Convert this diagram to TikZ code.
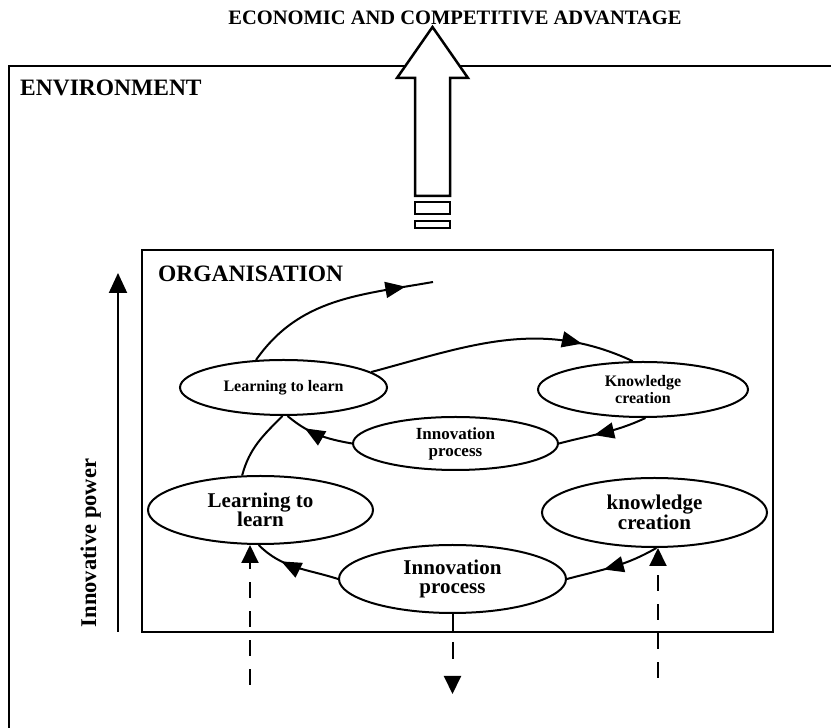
\documentclass[tikz,border=0pt]{standalone}
\usepackage{fontspec}
\setmainfont{Liberation Serif}
\usetikzlibrary{positioning, arrows.meta, shapes.geometric, decorations.markings, calc}

\tikzset{
  % frames and the big arrow
  frame/.style={draw, line width=2.5pt},
  % capital headings
  heading/.style={inner sep=0pt, font=\fontsize{23.5pt}{25pt}\selectfont\bfseries},
  % ellipses of the inner loop
  stage/.style={
    ellipse, draw, line width=2pt, inner sep=0pt, align=center,
    minimum width=207pt, minimum height=55pt,
    font=\fontsize{16pt}{17pt}\selectfont\bfseries
  },
  % ellipses of the outer loop
  bigstage/.style={
    stage, minimum width=225pt, minimum height=68pt,
    font=\fontsize{21pt}{19.5pt}\selectfont\bfseries
  },
  flow/.style={line width=2pt},
  % arrow head somewhere along a curve
  midarr/.style={
    postaction={decorate},
    decoration={markings,
      mark=at position #1 with {\arrow{Triangle[length=20pt,width=16pt]}}}
  },
  dasharr/.style={line width=2pt, dash pattern=on 16pt off 13pt,
    -{Triangle[length=18pt,width=17pt]}},
}

\begin{document}
\begin{tikzpicture}[x=1pt, y=1pt]
  \useasboundingbox (0,0) rectangle (831,728);

  % environment frame, open to the right and below
  \draw[frame] (831,662) -- (9,662) -- (9,0);
  \node[heading, anchor=base west] (env) at (20,632) {ENVIRONMENT};
  \node[heading, anchor=base, font=\fontsize{20.5pt}{22pt}\selectfont\bfseries]
    (goal) at (455,703) {ECONOMIC AND COMPETITIVE ADVANTAGE};

  % organisation box
  \node[frame, minimum width=631pt, minimum height=382pt, inner sep=0pt]
    (org) at (457.5,287) {};
  \node[heading, anchor=base west] (orgname) at (158,446) {ORGANISATION};

  % hollow arrow out of the organisation
  \draw[frame, fill=white] (432.5,701) -- (468,650) -- (450,650) -- (450,532)
    -- (415,532) -- (415,650) -- (397,650) -- cycle;
  \draw[line width=2pt] (415,514) rectangle (450,526);
  \draw[line width=2pt] (415,500) rectangle (450,507);

  % innovative power axis
  \coordinate (powlo) at (118,96);
  \coordinate (powhi) at (118,455);
  \draw[flow, -{Triangle[length=20pt,width=18pt]}] (powlo) -- (powhi);
  \node[heading, rotate=90, anchor=base, font=\fontsize{22.5pt}{24pt}\selectfont\bfseries]
    (power) at (96,185) {Innovative power};

  % inner loop
  \node[stage] (ltl1) at (283.5,340.5) {Learning to learn};
  \node[stage, minimum width=210pt] (kc1) at (643,338.5) {Knowledge\\creation};
  \node[stage, minimum width=205pt, minimum height=53pt,
    font=\fontsize{17pt}{17pt}\selectfont\bfseries] (ip1) at (455.5,284.5) {Innovation\\process};

  % outer loop
  \node[bigstage] (ltl2) at (260.5,218) {Learning to\\learn};
  \node[bigstage, minimum width=227pt] (ip2) at (452.5,149) {Innovation\\process};
  \node[bigstage, minimum height=69pt] (kc2) at (654.5,215.5) {knowledge\\creation};

  \coordinate (spiralend) at (433,446);

  \draw[flow, midarr=0.68] (ip2.west) to[out=162, in=-45] (ltl2.267);
  \draw[flow, midarr=0.6] (kc2.273) to[out=210, in=15] (ip2.east);
  \draw[flow] (ltl2.118) to[out=75, in=225] (ltl1.268);
  \draw[flow, midarr=0.8] (ltl1.10) to[out=15, in=155] (kc1.110);
  \draw[flow, midarr=0.6] (kc1.275) to[out=205, in=15] (ip1.east);
  \draw[flow, midarr=0.7] (ip1.west) to[out=170, in=-40] (ltl1.278);
  \draw[flow, midarr=0.86] (ltl1.135) to[out=55, in=190] (spiralend);

  % links with the environment
  \coordinate (inl) at (250,43);
  \coordinate (inr) at (658,50);
  \coordinate (outm) at (452.5,34);
  \draw[dasharr] (inl) -- (inl |- ltl2.south);
  \draw[dasharr] (inr) -- (inr |- kc2.south);
  \draw[dasharr, dash pattern=on 17pt off 11pt on 17pt off 30pt] (ip2.south) -- (outm);
\end{tikzpicture}
\end{document}
